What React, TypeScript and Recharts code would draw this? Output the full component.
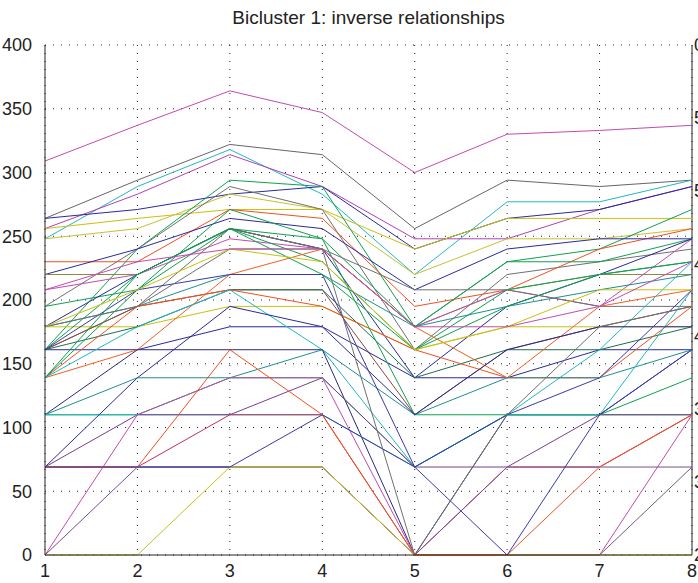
import React from "react";
import { LineChart, Line, CartesianGrid, XAxis, YAxis, ReferenceLine } from "recharts";

const conditions = [1, 2, 3, 4, 5, 6, 7, 8];
const yTicks = [0, 50, 100, 150, 200, 250, 300, 350, 400];
// labels of the neighbouring axes box, top to bottom
const rightLabels = ["0", "5", "5", "4", "4", "3", "3", "2"];

// expression profiles of the genes in the bicluster
const g01 = [309, 337, 364, 347, 300, 330, 333, 337];
const g02 = [264, 294, 322, 314, 256, 294, 289, 294];
const g03 = [248, 289, 318, 283, 220, 277, 277, 294];
const g04 = [256, 283, 314, 289, 248, 248, 271, 289];
const g05 = [264, 271, 283, 289, 240, 264, 271, 289];
const g06 = [256, 264, 271, 271, 240, 264, 264, 264];
const g07 = [248, 256, 283, 271, 220, 248, 248, 256];
const g08 = [161, 240, 294, 289, 179, 230, 240, 271];
const g09 = [195, 240, 289, 271, 161, 220, 230, 240];
const g10 = [230, 230, 271, 264, 195, 208, 240, 256];
const g11 = [220, 240, 264, 256, 208, 240, 248, 248];
const g12 = [220, 220, 256, 240, 179, 208, 220, 220];
const g13 = [208, 220, 248, 240, 179, 208, 195, 248];
const g14 = [195, 208, 256, 248, 179, 230, 230, 248];
const g15 = [179, 220, 256, 240, 139, 195, 220, 248];
const g16 = [179, 195, 220, 220, 179, 195, 208, 220];
const g17 = [179, 179, 195, 195, 161, 179, 179, 179];
const g18 = [161, 195, 256, 240, 208, 208, 195, 195];
const g19 = [161, 195, 208, 208, 110, 161, 179, 195];
const g20 = [161, 220, 256, 230, 161, 208, 220, 230];
const g21 = [161, 161, 179, 179, 139, 139, 161, 161];
const g22 = [161, 179, 208, 208, 139, 161, 161, 179];
const g23 = [139, 195, 208, 195, 161, 139, 139, 195];
const g24 = [139, 161, 220, 240, 179, 139, 195, 208];
const g25 = [139, 208, 271, 248, 110, 110, 110, 139];
const g26 = [139, 179, 208, 161, 69, 110, 161, 230];
const g27 = [110, 161, 161, 161, 0, 110, 110, 161];
const g28 = [110, 139, 139, 161, 110, 139, 139, 161];
const g29 = [110, 110, 139, 139, 69, 110, 110, 110];
const g30 = [110, 110, 110, 110, 69, 110, 110, 208];
const g31 = [69, 139, 195, 179, 110, 161, 179, 179];
const g32 = [69, 110, 110, 139, 69, 69, 110, 110];
const g33 = [69, 69, 110, 110, 0, 69, 69, 110];
const g34 = [69, 69, 69, 69, 0, 0, 0, 69];
const g35 = [0, 110, 139, 139, 0, 0, 0, 110];
const g36 = [0, 69, 69, 69, 0, 69, 69, 69];
const g37 = [0, 0, 69, 69, 0, 0, 0, 0];
const g38 = [69, 69, 161, 110, 0, 0, 69, 110];
const g39 = [69, 69, 69, 110, 69, 110, 139, 208];
const g40 = [161, 208, 220, 220, 69, 0, 110, 161];
const g41 = [179, 195, 240, 240, 0, 110, 179, 195];
const g42 = [139, 220, 256, 220, 161, 195, 220, 230];
const g43 = [179, 208, 240, 230, 161, 179, 208, 208];
const g44 = [208, 230, 240, 240, 179, 179, 195, 230];

const genes = [
  g01, g02, g03, g04, g05, g06, g07, g08, g09, g10, g11,
  g12, g13, g14, g15, g16, g17, g18, g19, g20, g21, g22,
  g23, g24, g25, g26, g27, g28, g29, g30, g31, g32, g33,
  g34, g35, g36, g37, g38, g39, g40, g41, g42, g43, g44,
];

const colors = [
  "#c04cb0", "#666666", "#22b8bf", "#b040b8", "#2a2a9a", "#c8c010", "#c8c030",
  "#10a050", "#707070", "#f05020", "#2a2a9a", "#8c8c3c", "#c04cb0", "#10a050",
  "#2a2a9a", "#1f8f8f", "#c8c010", "#707070", "#8a4a3a", "#10a050", "#2a2a9a",
  "#1e6e50", "#f05020", "#f06020", "#10a050", "#22b8bf", "#2a2a7a", "#1f8f8f",
  "#10a050", "#22b8bf", "#2a2a9a", "#7a3f8f", "#c0305a", "#6f5f7f", "#c04cb0",
  "#7a4f8f", "#c8c010", "#f05020", "#3a3aaa", "#3a3aaa", "#707070", "#10a050",
  "#c8c010", "#c04cb0",
];

const data = conditions.map((x, i) => {
  const row: Record<string, number> = { x };
  genes.forEach((g, j) => {
    row[`g${j}`] = g[i];
  });
  return row;
});

const minorTicks = Array.from({ length: 78 }, (_, i) => 1 + i / 11);

const font = "'Liberation Sans', Arial, Helvetica, sans-serif";
const tickStyle = { fontSize: 18, fill: "#222", fontFamily: font };

export default function App() {
  return (
    <div
      style={{
        position: "absolute",
        left: 0,
        top: 0,
        width: 698,
        height: 583,
        overflow: "hidden",
        background: "#fff",
        fontFamily: font,
      }}
    >
      <div
        style={{
          position: "absolute",
          left: 0,
          width: 737,
          top: 7,
          textAlign: "center",
          fontSize: 19,
          color: "#222",
        }}
      >
        Bicluster 1: inverse relationships
      </div>
      {rightLabels.map((t, k) => (
        <div
          key={k}
          style={{
            position: "absolute",
            left: 694,
            top: 45 + (k * 510) / 7 - 11,
            fontSize: 18,
            lineHeight: "22px",
            color: "#222",
          }}
        >
          {t}
        </div>
      ))}
      <LineChart
        width={698}
        height={583}
        data={data}
        margin={{ top: 45, right: 6, bottom: 0, left: 0 }}
      >
        <CartesianGrid stroke="#222" strokeDasharray="1 7" />
        <XAxis
          xAxisId="marks"
          dataKey="x"
          type="number"
          domain={[1, 8]}
          ticks={conditions}
          mirror
          tick={false}
          tickSize={5}
          axisLine={false}
          tickLine={{ stroke: "#222" }}
          height={0}
        />
        <XAxis
          dataKey="x"
          type="number"
          domain={[1, 8]}
          ticks={conditions}
          height={28}
          tickLine={false}
          tickMargin={3}
          axisLine={{ stroke: "#222" }}
          tick={tickStyle}
          interval={0}
        />
        <XAxis
          xAxisId="top"
          orientation="top"
          dataKey="x"
          type="number"
          domain={[1, 8]}
          ticks={minorTicks}
          mirror
          tick={false}
          tickSize={3}
          height={0}
          axisLine={{ stroke: "#222" }}
          tickLine={{ stroke: "#444" }}
        />
        <YAxis
          yAxisId="marks"
          type="number"
          domain={[0, 400]}
          ticks={yTicks}
          mirror
          tick={false}
          tickSize={5}
          axisLine={false}
          tickLine={{ stroke: "#222" }}
          width={0}
        />
        <YAxis
          type="number"
          domain={[0, 400]}
          ticks={yTicks}
          width={45}
          tickLine={false}
          tickMargin={7}
          axisLine={{ stroke: "#222" }}
          tick={tickStyle}
          interval={0}
        />
        <ReferenceLine x={8} stroke="#222" />
        {genes.map((_, j) => (
          <Line
            key={j}
            dataKey={`g${j}`}
            stroke={colors[j]}
            strokeWidth={1}
            dot={false}
            type="linear"
            isAnimationActive={false}
          />
        ))}
      </LineChart>
    </div>
  );
}
